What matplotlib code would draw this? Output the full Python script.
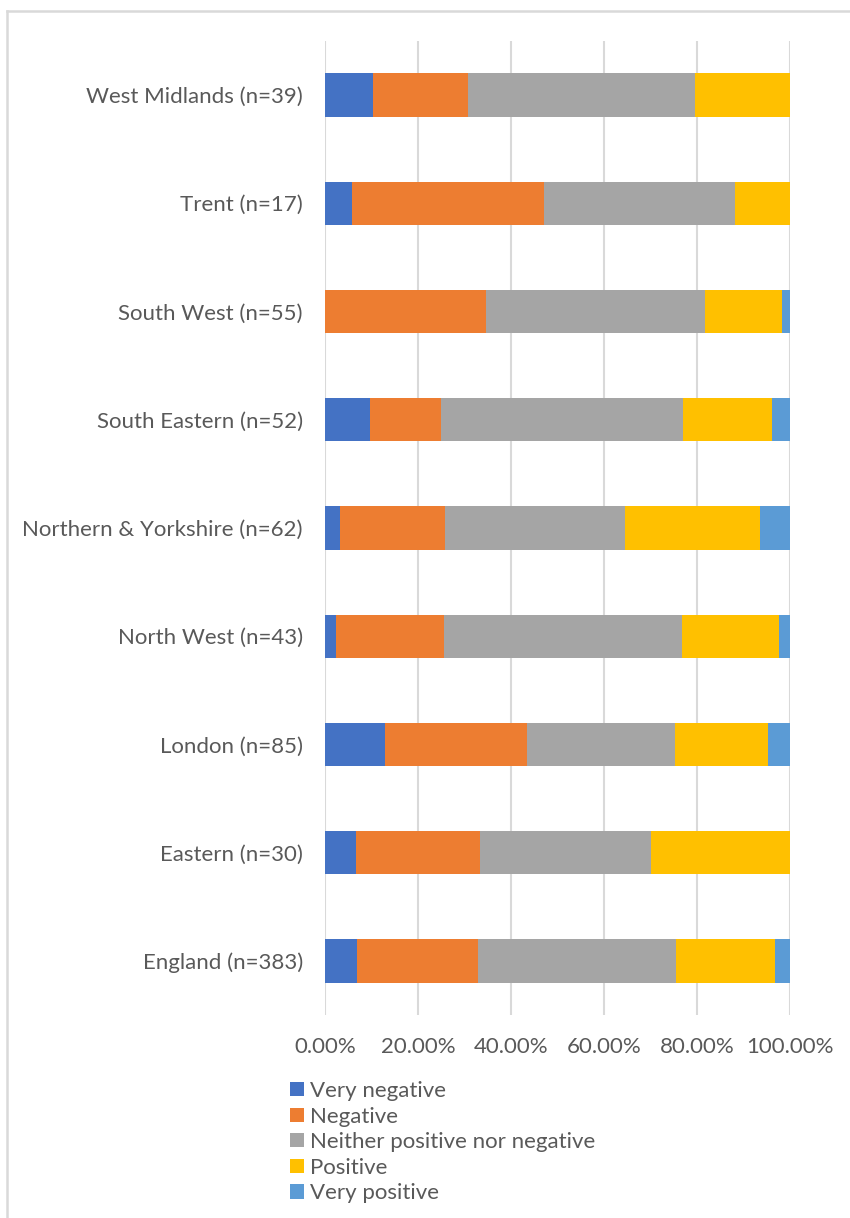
import numpy as np
import matplotlib
matplotlib.use('Agg')
import matplotlib.pyplot as plt
from matplotlib.patches import Patch
from matplotlib.lines import Line2D
from matplotlib.ticker import FuncFormatter

# regions, bottom to top as drawn
regions = ['England (n=383)', 'Eastern (n=30)', 'London (n=85)', 'North West (n=43)',
           'Northern & Yorkshire (n=62)', 'South Eastern (n=52)', 'South West (n=55)',
           'Trent (n=17)', 'West Midlands (n=39)']

# percentage of responses in each category
very_negative = [6.79, 6.67, 12.94, 2.33, 3.23, 9.62, 0.00, 5.88, 10.26]
negative      = [26.11, 26.67, 30.59, 23.26, 22.58, 15.38, 34.55, 41.18, 20.51]
neither       = [42.56, 36.67, 31.76, 51.16, 38.71, 51.92, 47.27, 41.18, 48.72]
positive      = [21.41, 30.00, 20.00, 20.93, 29.03, 19.23, 16.36, 11.76, 20.51]
very_positive = [3.13, 0.00, 4.71, 2.33, 6.45, 3.85, 1.82, 0.00, 0.00]

series_names = ['Very negative', 'Negative', 'Neither positive nor negative',
                'Positive', 'Very positive']
colours = ['#4472C4', '#ED7D31', '#A5A5A5', '#FFC000', '#5B9BD5']
text_col = '#595959'

plt.rcParams['font.family'] = ['Lato', 'DejaVu Sans']

fig = plt.figure(figsize=(8.5, 12.18), dpi=100)
ax = fig.add_axes([325/850, 1 - 1015/1218, 465/850, 974/1218])

y = np.arange(len(regions))
left = np.zeros(len(regions))
for vals, name, c in zip([very_negative, negative, neither, positive, very_positive],
                         series_names, colours):
    vals = np.array(vals)
    ax.barh(y, vals, left=left, height=0.4, color=c, label=name, zorder=3)
    left += vals

ax.set_xlim(0, 100)
ax.set_ylim(-0.5, len(regions) - 0.5)
ax.set_xticks(np.arange(0, 101, 20))
ax.xaxis.set_major_formatter(FuncFormatter(lambda v, p: '%.2f%%' % v))
ax.set_yticks(y)
ax.set_yticklabels(regions)
ax.tick_params(axis='both', length=0, labelsize=16, colors=text_col)
ax.tick_params(axis='x', pad=16)
ax.tick_params(axis='y', pad=16)
ax.grid(axis='x', color='#D9D9D9', linewidth=1.5, zorder=0)
for s in ax.spines.values():
    s.set_visible(False)

handles = [Patch(facecolor=c, edgecolor='none') for c in colours]
fig.legend(handles, series_names, loc='upper left', bbox_to_anchor=(290/850, 1 - 1081/1218),
           frameon=False, fontsize=16, labelcolor=text_col, handlelength=0.62,
           handleheight=0.62, handletextpad=0.3, labelspacing=0.25, borderaxespad=0,
           borderpad=0)

# chart area border (only top and left visible)
fig.add_artist(Line2D([7/850, 7/850], [0, 1 - 11/1218], transform=fig.transFigure,
                      color='#D9D9D9', linewidth=1.8))
fig.add_artist(Line2D([7/850, 1], [1 - 11/1218, 1 - 11/1218], transform=fig.transFigure,
                      color='#D9D9D9', linewidth=1.8))

fig.savefig('out.png', dpi=100)
